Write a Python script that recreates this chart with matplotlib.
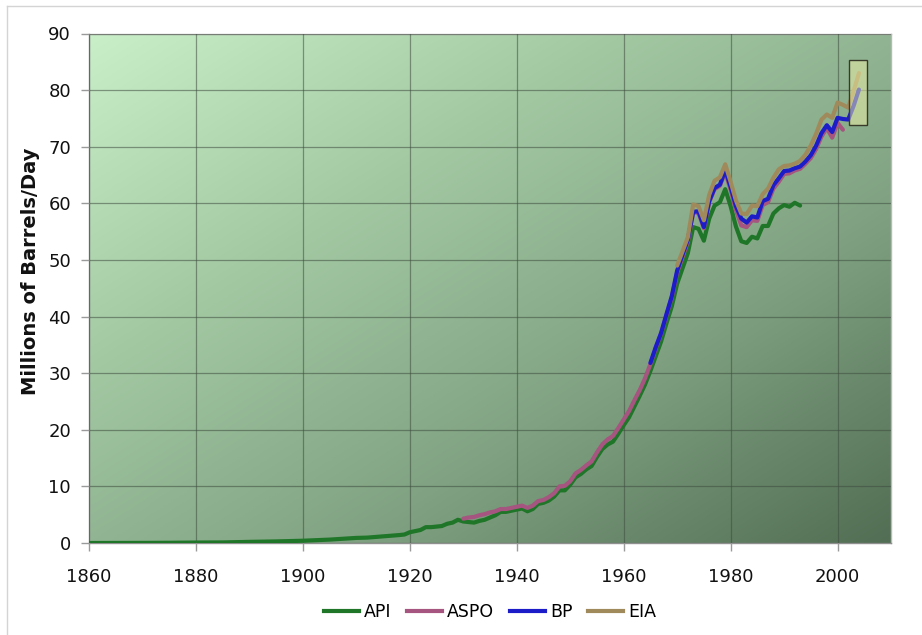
import numpy as np
import matplotlib
matplotlib.use("Agg")
import matplotlib.pyplot as plt
from matplotlib.colors import LinearSegmentedColormap
from matplotlib.patches import Rectangle
from matplotlib.lines import Line2D

# ---- World oil production, millions of barrels per day ----
api_years = [1860, 1865, 1870, 1875, 1880, 1885, 1890, 1895, 1900, 1905, 1910, 1912,
             1914, 1916, 1918, 1919] + list(range(1920, 1994))
api_values = [0.0, 0.01, 0.02, 0.04, 0.08, 0.10, 0.2, 0.28, 0.4, 0.6, 0.9, 0.95,
              1.1, 1.25, 1.4, 1.5,
              1.9, 2.1, 2.3, 2.8, 2.8, 2.9, 3.0, 3.4, 3.6, 4.1,
              3.8, 3.7, 3.6, 3.9, 4.1, 4.5, 4.9, 5.5, 5.5, 5.7,
              5.9, 6.1, 5.6, 6.0, 6.9, 7.1, 7.5, 8.2, 9.3, 9.3,
              10.3, 11.6, 12.2, 13.0, 13.6, 15.2, 16.6, 17.4, 17.9, 19.3,
              20.8, 22.2, 24.1, 26.0, 28.0, 30.4, 33.0, 35.6, 38.8, 41.8,
              45.8, 48.5, 51.2, 55.8, 55.5, 53.4, 57.3, 59.6, 60.2, 62.5,
              59.5, 55.9, 53.3, 53.0, 54.1, 53.8, 56.0, 56.0, 58.2, 59.1,
              59.7, 59.4, 60.1, 59.6]

aspo_years = list(range(1930, 2002))
aspo_values = [4.3, 4.5, 4.6, 4.9, 5.1, 5.4, 5.6, 6.0, 6.0, 6.2,
               6.4, 6.6, 6.2, 6.6, 7.4, 7.6, 8.1, 8.8, 10.0, 10.1,
               10.9, 12.3, 12.9, 13.7, 14.4, 16.0, 17.4, 18.3, 18.9, 20.3,
               21.8, 23.3, 25.2, 27.0, 29.1, 31.6, 34.4, 37.0, 40.2, 43.4,
               47.8, 50.5, 53.2, 58.4, 58.3, 55.6, 60.2, 62.5, 63.1, 65.5,
               62.4, 58.8, 56.1, 55.8, 57.0, 56.9, 59.7, 60.2, 62.6, 63.8,
               65.2, 65.3, 65.8, 66.1, 67.0, 68.0, 69.6, 71.8, 73.3, 71.6,
               74.2, 73.0]

bp_years = list(range(1965, 2005))
bp_values = [31.8, 34.6, 37.1, 40.4, 43.6, 48.1, 50.9, 53.6, 58.5, 58.6,
             55.8, 60.4, 62.7, 63.3, 65.9, 62.9, 59.5, 57.3, 56.6, 57.7,
             57.5, 60.4, 60.8, 63.2, 64.4, 65.7, 65.8, 66.2, 66.5, 67.4,
             68.5, 70.2, 72.4, 73.8, 72.6, 75.1, 74.9, 74.8, 77.2, 80.1]

eia_years = list(range(1970, 2005))
eia_values = [49.0, 51.5, 54.0, 59.8, 59.5, 57.0, 61.5, 64.0, 64.6, 66.9,
              63.8, 60.5, 58.2, 58.1, 59.6, 59.5, 61.6, 62.6, 64.5, 66.0,
              66.6, 66.7, 67.0, 67.5, 68.6, 70.2, 72.3, 74.8, 75.7, 75.1,
              77.8, 77.4, 76.9, 79.8, 83.0]

series_names = ["API", "ASPO", "BP", "EIA"]
series_colors = ["#1f7628", "#a5557f", "#1c1cc8", "#a08a5c"]

x_ticks = [1860, 1880, 1900, 1920, 1940, 1960, 1980, 2000]
y_ticks = list(range(0, 100, 10))

# ---- figure ----
fig = plt.figure(figsize=(9.22, 6.35), dpi=100)
fig.patch.set_facecolor("white")
ax = fig.add_axes([89 / 922, 92 / 635, 802 / 922, 509.5 / 635])

# diagonal green gradient behind the plot
n = 300
u = np.linspace(0, 1, n)
v = np.linspace(1, 0, n)
U, V = np.meshgrid(u, v)
T = (U + (1 - V)) / 2.0
cmap = LinearSegmentedColormap.from_list(
    "bg", ["#c9efc9", "#a2c8a2", "#80a282", "#526e54"])
ax.imshow(T, cmap=cmap, extent=[0, 1, 0, 1], transform=ax.transAxes,
          aspect="auto", zorder=0, interpolation="bilinear")

ax.set_xlim(1860, 2010)
ax.set_ylim(0, 90)
ax.set_xticks(x_ticks)
ax.set_yticks(y_ticks)
ax.grid(True, color="#3f4d3f", alpha=0.55, linewidth=0.9, zorder=1)
ax.set_axisbelow(False)

data = [(api_years, api_values), (aspo_years, aspo_values),
        (bp_years, bp_values), (eia_years, eia_values)]
for (yrs, vals), name, col in zip(data, series_names, series_colors):
    ax.plot(yrs, vals, color=col, linewidth=3.0, label=name, zorder=3,
            solid_joinstyle="round", solid_capstyle="round")

# highlight box around the latest estimates
ax.add_patch(Rectangle((2002.1, 73.8), 3.4, 11.6, facecolor="#f2f2a8",
                       alpha=0.5, edgecolor="none", zorder=4))
ax.add_patch(Rectangle((2002.1, 73.8), 3.4, 11.6, facecolor="none",
                       edgecolor="#3a3a2a", linewidth=1.0, zorder=5))

for side in ["left", "bottom"]:
    ax.spines[side].set_color("#8f8f8f")
    ax.spines[side].set_linewidth(1.0)
for side in ["top", "right"]:
    ax.spines[side].set_color("#b8b8b8")
    ax.spines[side].set_linewidth(1.0)

ax.tick_params(axis="both", direction="out", color="#9a9a9a", length=6,
               width=1.0, labelsize=13, labelcolor="#111111")
ax.tick_params(axis="x", pad=12)
ax.tick_params(axis="y", pad=7)

fig.text(30 / 922, 1 - 271 / 635, "Millions of Barrels/Day", rotation=90,
         ha="center", va="center", fontsize=14, fontweight="bold",
         color="#111111")

handles = [Line2D([0], [0], color=c, linewidth=3.0) for c in series_colors]
fig.legend(handles, series_names, loc="center", ncol=4,
           bbox_to_anchor=(490 / 922, 1 - 612 / 635), frameon=False,
           fontsize=12.5, handlelength=2.0, handletextpad=0.3,
           columnspacing=0.9)

# light frame along the top and left edges
fig.add_artist(Line2D([7 / 922, 7 / 922], [0, 1 - 6 / 635],
                      transform=fig.transFigure, color="#d4d4d4", linewidth=1))
fig.add_artist(Line2D([7 / 922, 1], [1 - 6 / 635, 1 - 6 / 635],
                      transform=fig.transFigure, color="#d4d4d4", linewidth=1))

fig.savefig("out.png", dpi=100)
